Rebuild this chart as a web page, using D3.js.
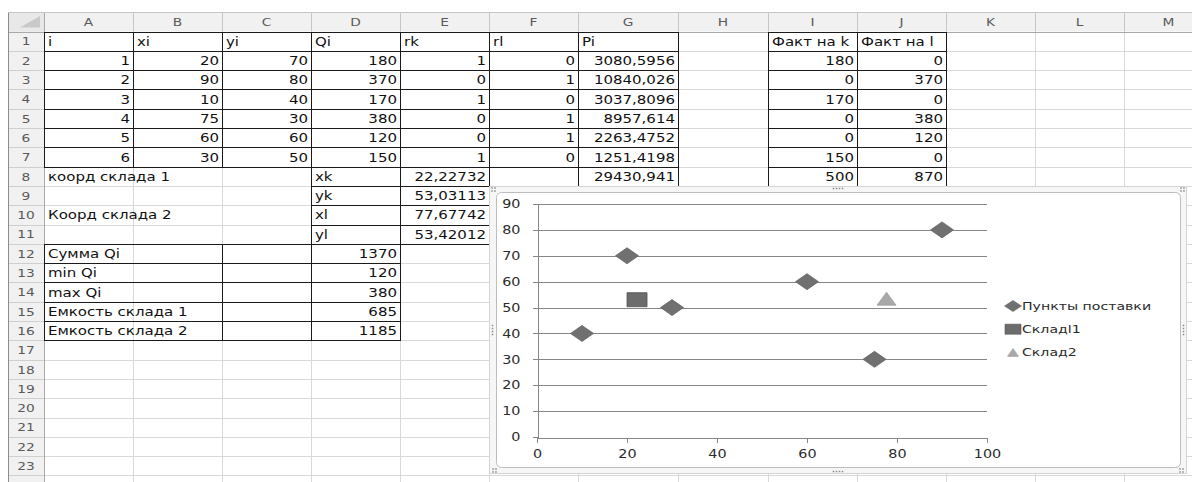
<!DOCTYPE html>
<html>
<head>
<meta charset="utf-8">
<script src="https://cdn.jsdelivr.net/npm/d3@7"></script>
<style>
  body { margin: 0; background: #fff; }
  svg { display: block; font-family: "DejaVu Sans", Verdana, sans-serif; }
  /* the sheet renders its font slightly widened */
  .wide { transform-box: fill-box; transform: scaleX(1.25); }
  .wide.start { transform-origin: left center; }
  .wide.end { transform-origin: right center; }
  .wide.middle { transform-origin: center center; }
</style>
</head>
<body>
<svg id="sheet" width="1192" height="482"></svg>
<script>
// ---------- worksheet contents ----------
const colLetters = ["A", "B", "C", "D", "E", "F", "G", "H", "I", "J", "K", "L", "M"];
const headerRow = ["i", "xi", "yi", "Qi", "rk", "rl", "Pi"];
const pointNo = [1, 2, 3, 4, 5, 6];
const xi = [20, 90, 10, 75, 60, 30];
const yi = [70, 80, 40, 30, 60, 50];
const Qi = [180, 370, 170, 380, 120, 150];
const rk = [1, 0, 1, 0, 0, 1];
const rl = [0, 1, 0, 1, 1, 0];
const Pi = [3080.5956, 10840.026, 3037.8096, 8957.614, 2263.4752, 1251.4198];
const PiTotal = 29430.941;
const factHeaders = ["Факт на k", "Факт на l"];
const factK = [180, 0, 170, 0, 0, 150];
const factL = [0, 370, 0, 380, 120, 0];
const factTotals = [500, 870];
const depotTitles = ["коорд склада 1", "Коорд склада 2"];
const depotLabels = ["xk", "yk", "xl", "yl"];
const depotCoords = [22.22732, 53.03113, 77.67742, 53.42012];
const summaryLabels = ["Сумма Qi", "min Qi", "max Qi", "Емкость склада 1", "Емкость склада 2"];
const summaryValues = [1370, 120, 380, 685, 1185];

// ---------- chart settings ----------
const seriesNames = ["Пункты поставки", "Складl1", "Склад2"];
const xTicks = [0, 20, 40, 60, 80, 100];
const yTicks = [0, 10, 20, 30, 40, 50, 60, 70, 80, 90];

// ---------- sheet geometry ----------
const W = 1192, H = 482;
const sheetLeft = 8, sheetTop = 12;
const rowHeadW = 36, headH = 19.5, rowH = 19.3;
const colW = [89, 89, 89, 89, 89, 89, 100, 90, 89, 89, 89, 89, 89];
const colX = [sheetLeft + rowHeadW];
colW.forEach((w, i) => colX.push(colX[i] + w));
const rowTop = r => sheetTop + headH + (r - 1) * rowH;
const px = v => Math.round(v) + 0.5;
const fmt = v => String(v).replace(".", ",");

const svg = d3.select("#sheet");
svg.append("rect").attr("width", W).attr("height", H).attr("fill", "#fff");

// cell gridlines
const grid = svg.append("g").attr("stroke", "#d9d9d9").attr("stroke-width", 1);
for (let c = 1; c < colX.length; c++) {
  grid.append("line").attr("x1", px(colX[c])).attr("x2", px(colX[c]))
    .attr("y1", sheetTop + headH).attr("y2", H);
}
for (let r = 2; r <= 25; r++) {
  grid.append("line").attr("y1", px(rowTop(r))).attr("y2", px(rowTop(r)))
    .attr("x1", colX[0]).attr("x2", W);
}

// column and row headers
const hdr = svg.append("g");
hdr.append("rect").attr("x", sheetLeft).attr("y", sheetTop).attr("width", W - sheetLeft).attr("height", headH)
  .attr("fill", "#f1f1f1");
hdr.append("rect").attr("x", sheetLeft).attr("y", sheetTop).attr("width", rowHeadW).attr("height", H - sheetTop)
  .attr("fill", "#f1f1f1");
colLetters.forEach((L, i) => {
  hdr.append("line").attr("x1", px(colX[i + 1])).attr("x2", px(colX[i + 1]))
    .attr("y1", sheetTop).attr("y2", sheetTop + headH).attr("stroke", "#c6c6c6");
  hdr.append("text").attr("x", (colX[i] + colX[i + 1]) / 2).attr("y", sheetTop + 14)
    .attr("text-anchor", "middle").attr("class", "wide middle")
    .attr("font-size", 11).attr("fill", "#5a5a5a").text(L);
});
for (let r = 1; r <= 24; r++) {
  hdr.append("line").attr("x1", sheetLeft).attr("x2", sheetLeft + rowHeadW)
    .attr("y1", px(rowTop(r + 1))).attr("y2", px(rowTop(r + 1))).attr("stroke", "#cfcfcf");
  if (r <= 23) {
    hdr.append("text").attr("x", sheetLeft + rowHeadW / 2).attr("y", rowTop(r) + 14)
      .attr("text-anchor", "middle").attr("class", "wide middle")
      .attr("font-size", 11).attr("fill", "#5a5a5a").text(r);
  }
}
// corner cell
hdr.append("rect").attr("x", sheetLeft).attr("y", sheetTop).attr("width", rowHeadW).attr("height", headH)
  .attr("fill", "#e8e8e8");
hdr.append("path")
  .attr("d", `M${sheetLeft + rowHeadW - 4},${sheetTop + 4}L${sheetLeft + rowHeadW - 4},${sheetTop + headH - 4}L${sheetLeft + 12},${sheetTop + headH - 4}Z`)
  .attr("fill", "#c9c9c9");
hdr.append("line").attr("x1", sheetLeft).attr("x2", W).attr("y1", px(sheetTop + headH)).attr("y2", px(sheetTop + headH))
  .attr("stroke", "#a9a9a9");
hdr.append("line").attr("x1", px(colX[0])).attr("x2", px(colX[0])).attr("y1", sheetTop).attr("y2", H)
  .attr("stroke", "#a9a9a9");
hdr.append("line").attr("x1", px(sheetLeft)).attr("x2", px(sheetLeft)).attr("y1", sheetTop).attr("y2", H)
  .attr("stroke", "#8c8c8c");
hdr.append("line").attr("x1", sheetLeft).attr("x2", W).attr("y1", px(sheetTop)).attr("y2", px(sheetTop))
  .attr("stroke", "#c6c6c6");

// cell borders
const borders = svg.append("g").attr("stroke", "#1a1a1a").attr("stroke-width", 1);
function hLine(c0, c1, r) {
  borders.append("line").attr("x1", px(colX[c0]) - 0.5).attr("x2", px(colX[c1]) + 0.5)
    .attr("y1", px(rowTop(r))).attr("y2", px(rowTop(r)));
}
function vLine(c, r0, r1) {
  borders.append("line").attr("x1", px(colX[c])).attr("x2", px(colX[c]))
    .attr("y1", px(rowTop(r0)) - 0.5).attr("y2", px(rowTop(r1)) + 0.5);
}
function box(c0, c1, r0, r1) { // all borders of columns c0..c1-1, rows r0..r1-1
  for (let r = r0; r <= r1; r++) hLine(c0, c1, r);
  for (let c = c0; c <= c1; c++) vLine(c, r0, r1);
}
box(0, 7, 1, 8);     // A1:G7
box(8, 10, 1, 9);    // I1:J8
box(6, 7, 8, 9);     // G8
box(3, 5, 8, 12);    // D8:E11
for (let r = 12; r <= 17; r++) hLine(0, 4, r);  // A12:D16
[0, 2, 3, 4].forEach(c => vLine(c, 12, 17));

// cell text
const cells = svg.append("g").attr("font-size", 12).attr("fill", "#111");
function cell(col, row, text, align) {
  const x = align === "end" ? colX[col + 1] - 3 : colX[col] + 4;
  cells.append("text").attr("x", x).attr("y", rowTop(row) + 14.3)
    .attr("text-anchor", align).attr("class", "wide " + align).text(text);
}
headerRow.forEach((t, i) => cell(i, 1, t, "start"));
factHeaders.forEach((t, i) => cell(8 + i, 1, t, "start"));
pointNo.forEach((n, i) => {
  const r = i + 2;
  cell(0, r, n, "end");
  cell(1, r, xi[i], "end");
  cell(2, r, yi[i], "end");
  cell(3, r, Qi[i], "end");
  cell(4, r, rk[i], "end");
  cell(5, r, rl[i], "end");
  cell(6, r, fmt(Pi[i]), "end");
  cell(8, r, factK[i], "end");
  cell(9, r, factL[i], "end");
});
cell(6, 8, fmt(PiTotal), "end");
factTotals.forEach((v, i) => cell(8 + i, 8, v, "end"));
cell(0, 8, depotTitles[0], "start");
cell(0, 10, depotTitles[1], "start");
depotLabels.forEach((t, i) => {
  cell(3, 8 + i, t, "start");
  cell(4, 8 + i, fmt(depotCoords[i]), "end");
});
summaryLabels.forEach((t, i) => {
  cell(0, 12 + i, t, "start");
  cell(3, 12 + i, summaryValues[i], "end");
});

// ---------- embedded chart ----------
const chart = svg.append("g");
const fr = { x0: 489.5, y0: 186.5, x1: 1186.5, y1: 473.5 };
chart.append("rect").attr("x", fr.x0).attr("y", fr.y0).attr("width", fr.x1 - fr.x0).attr("height", fr.y1 - fr.y0)
  .attr("fill", "#f6f6f6").attr("stroke", "#d4d4d4");
chart.append("rect").attr("x", fr.x0 + 7).attr("y", fr.y0 + 6).attr("width", fr.x1 - fr.x0 - 13).attr("height", fr.y1 - fr.y0 - 12)
  .attr("rx", 5).attr("fill", "#fff").attr("stroke", "#bdbdbd");

// selection handles
const handles = chart.append("g").attr("fill", "#8a8a8a");
function dots(cx, cy, cols, rows) {
  for (let i = 0; i < cols; i++)
    for (let j = 0; j < rows; j++)
      handles.append("rect").attr("x", cx - (cols - 1) * 1.5 + i * 3 - 0.75)
        .attr("y", cy - (rows - 1) * 1.5 + j * 3 - 0.75).attr("width", 1.5).attr("height", 1.5);
}
const midX = (fr.x0 + fr.x1) / 2, midY = (fr.y0 + fr.y1) / 2;
dots(fr.x0 + 4, fr.y0 + 3, 2, 2);
dots(fr.x1 - 4, fr.y0 + 3, 2, 2);
dots(fr.x0 + 5, fr.y1 - 3, 2, 2);
dots(fr.x1 - 5, fr.y1 - 3, 2, 2);
dots(midX, fr.y0 + 2, 4, 1);
dots(midX, fr.y1 - 2, 4, 1);
dots(fr.x0 + 3, midY, 1, 4);
dots(fr.x1 - 3, midY, 1, 4);

const x = d3.scaleLinear().domain([0, 100]).range([537, 987]);
const y = d3.scaleLinear().domain([0, 90]).range([437, 204]);
const axisColor = "#878787";

// horizontal gridlines
chart.append("g").selectAll("line").data(yTicks.filter(t => t > 0)).join("line")
  .attr("x1", x(0)).attr("x2", x(100))
  .attr("y1", d => px(y(d))).attr("y2", d => px(y(d)))
  .attr("stroke", axisColor);

// axes
const gx = chart.append("g").attr("transform", `translate(0,${px(y(0))})`)
  .call(d3.axisBottom(x).tickValues(xTicks).tickSize(5).tickSizeOuter(0).tickPadding(7));
const gy = chart.append("g").attr("transform", `translate(${px(x(0))},0)`)
  .call(d3.axisLeft(y).tickValues(yTicks).tickSize(5).tickSizeOuter(0).tickPadding(12));
[gx, gy].forEach(g => {
  g.attr("font-family", null).attr("font-size", 11.5);
  g.selectAll("path, line").attr("stroke", axisColor).attr("shape-rendering", "crispEdges");
  g.selectAll("text").attr("fill", "#2b2b2b");
});
gx.selectAll("text").attr("class", "wide middle");
gy.selectAll("text").attr("class", "wide end");

// marker shapes
const diamond = (w, h) => `M0,${-h / 2}L${w / 2},0L0,${h / 2}L${-w / 2},0Z`;
const square = (w, h) => `M${-w / 2},${-h / 2}h${w}v${h}h${-w}Z`;
const triangle = (w, h) => `M0,${-h / 2}L${w / 2},${h / 2}L${-w / 2},${h / 2}Z`;
const seriesStyle = [
  { shape: diamond, w: 23, h: 16, fill: "#707070", stroke: "#666" },
  { shape: square, w: 20, h: 14, fill: "#6c6c6c", stroke: "#505050" },
  { shape: triangle, w: 19, h: 13, fill: "#a8a8a8", stroke: "#a0a0a0" }
];

const deliveries = xi.map((v, i) => ({ x: v, y: yi[i] }));
const depots = [
  [{ x: depotCoords[0], y: depotCoords[1] }],
  [{ x: depotCoords[2], y: depotCoords[3] }]
];
const seriesData = [deliveries, depots[0], depots[1]];

seriesData.forEach((pts, s) => {
  const st = seriesStyle[s];
  chart.append("g").selectAll("path").data(pts).join("path")
    .attr("transform", d => `translate(${x(d.x)},${y(d.y)})`)
    .attr("d", st.shape(st.w, st.h))
    .attr("fill", st.fill).attr("stroke", st.stroke).attr("stroke-width", 0.8);
});

// legend
const legend = chart.append("g").attr("font-size", 11.3).attr("fill", "#2b2b2b");
const legendSize = [[17, 11], [16, 10], [11, 8]];
seriesNames.forEach((name, i) => {
  const cy = 306 + i * 23.2;
  const st = seriesStyle[i];
  legend.append("path").attr("transform", `translate(1013,${cy})`)
    .attr("d", st.shape(legendSize[i][0], legendSize[i][1]))
    .attr("fill", st.fill).attr("stroke", st.stroke).attr("stroke-width", 0.6);
  legend.append("text").attr("x", 1022).attr("y", cy + 4)
    .attr("class", "wide start").text(name);
});
</script>
</body>
</html>
